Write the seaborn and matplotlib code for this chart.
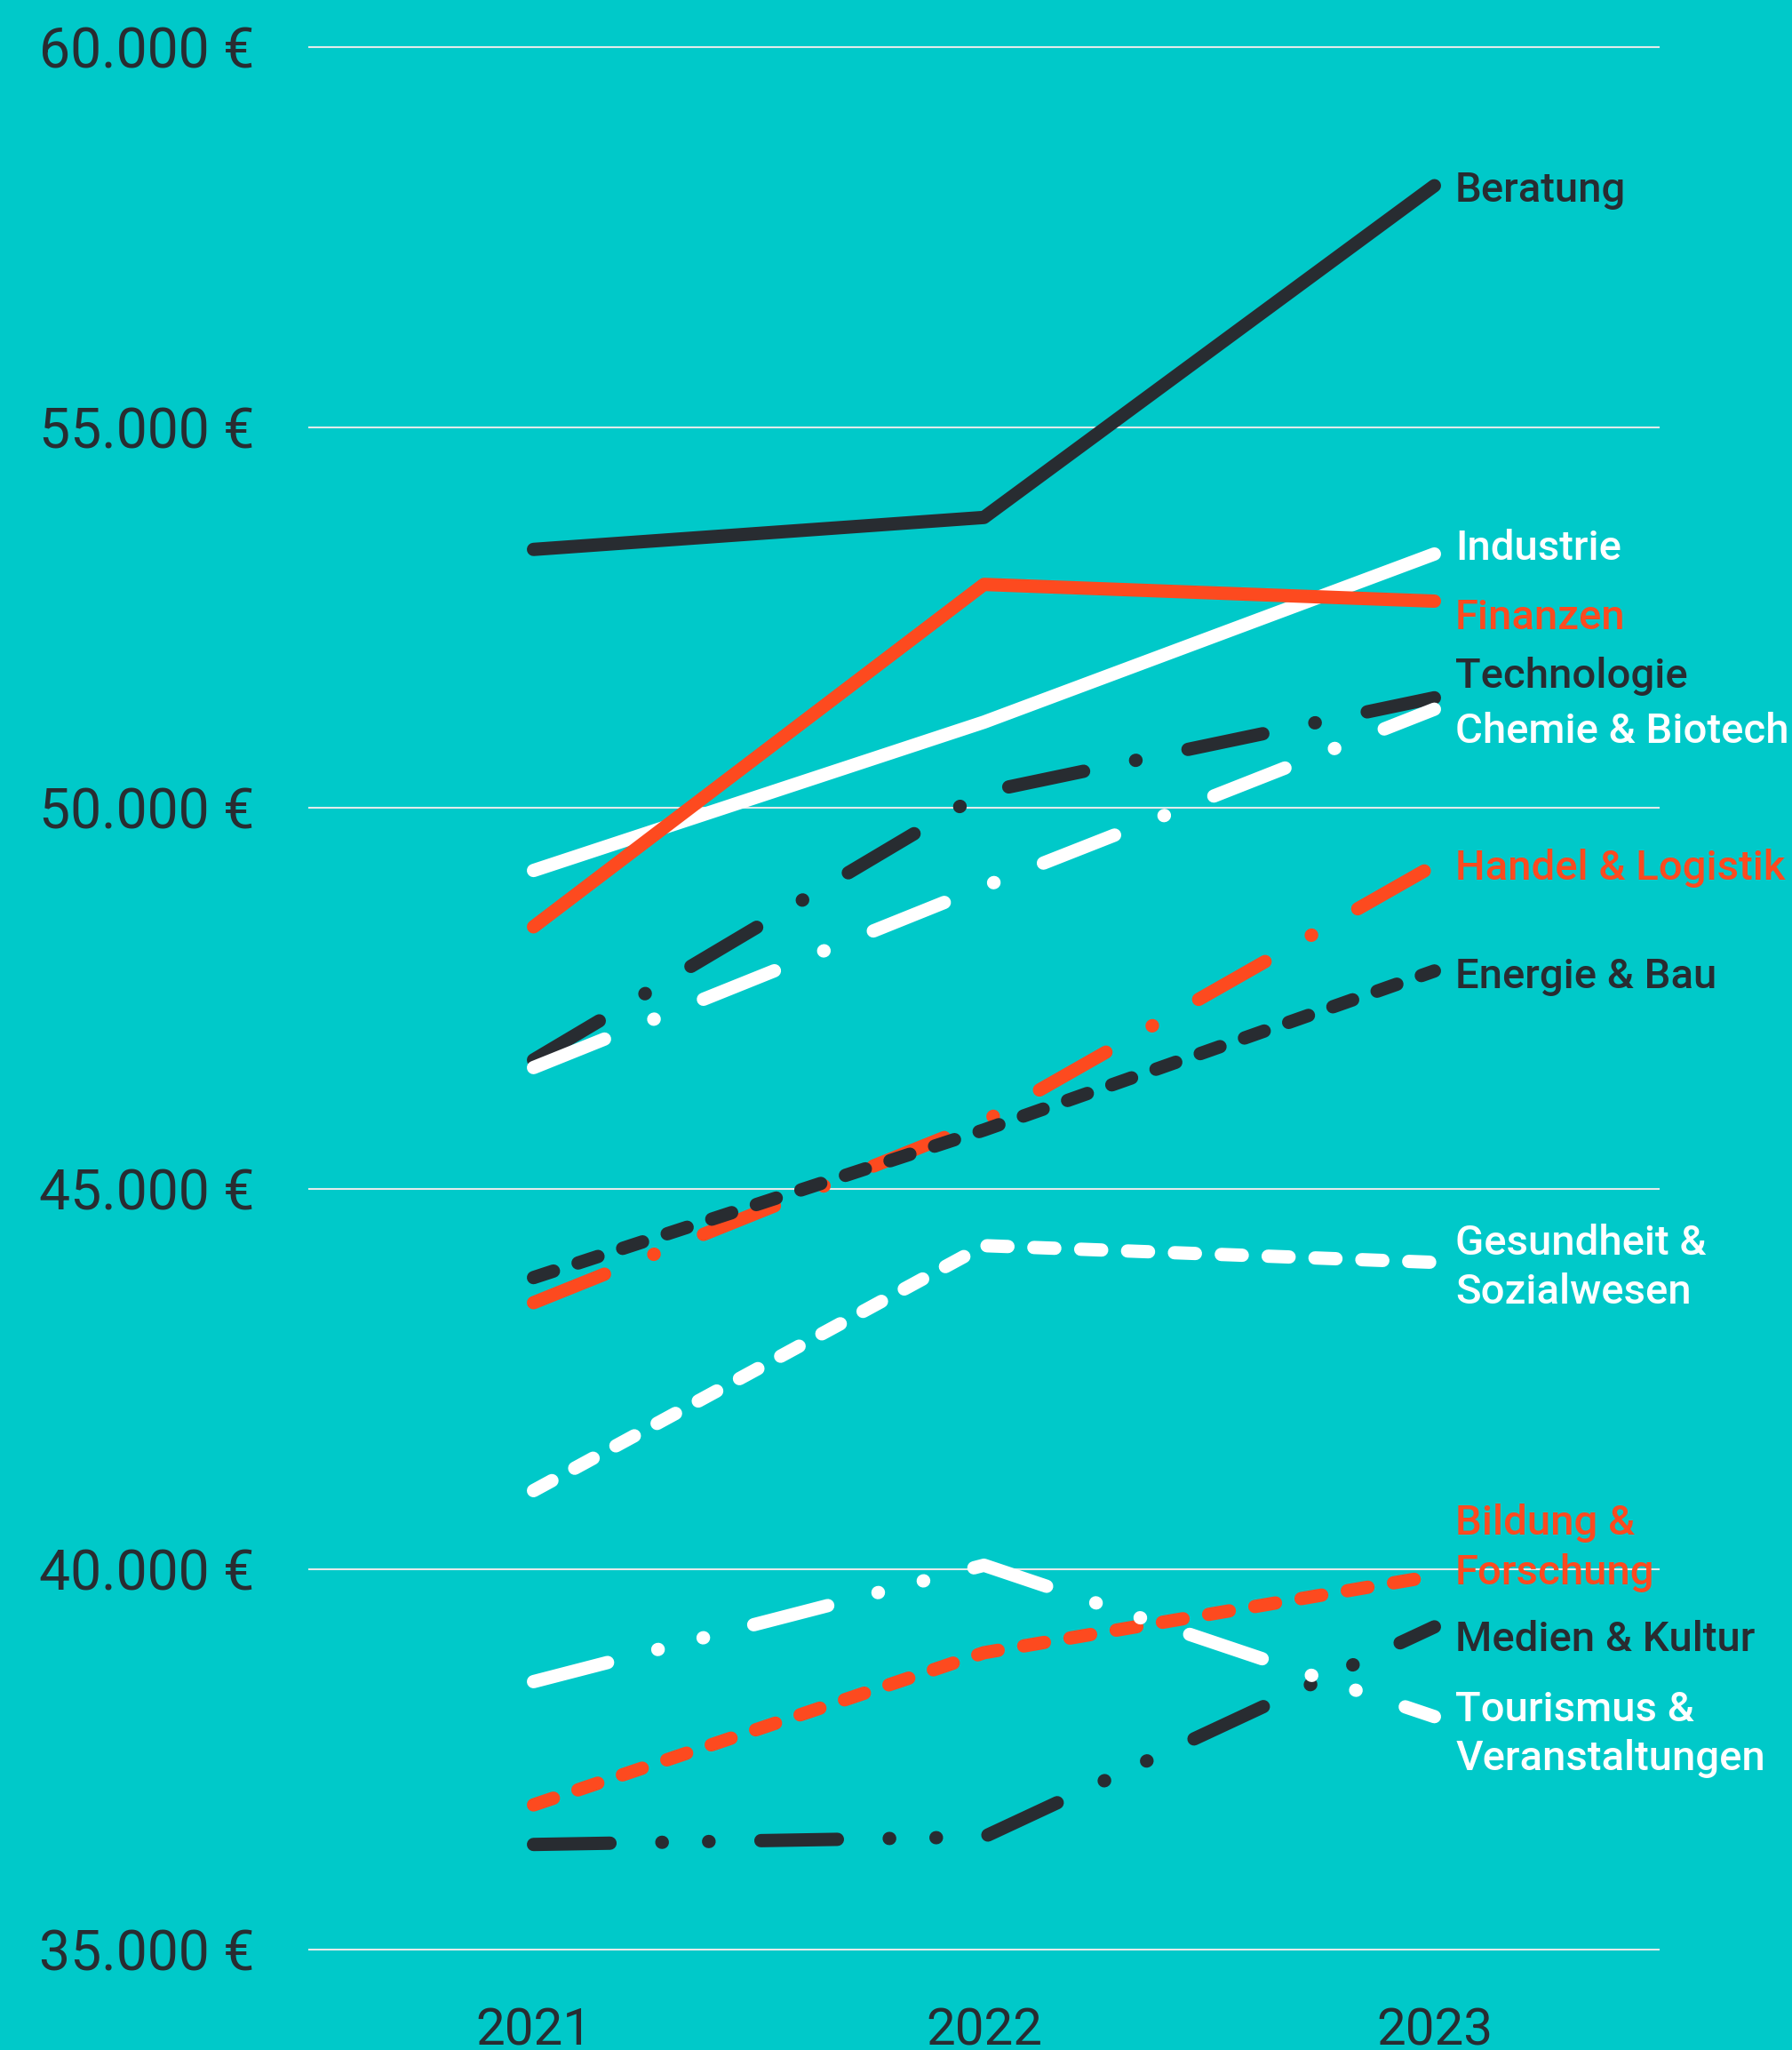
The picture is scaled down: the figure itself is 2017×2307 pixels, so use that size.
import matplotlib
matplotlib.use("Agg")
import matplotlib.pyplot as plt
import seaborn as sns
import pandas as pd
from matplotlib.ticker import FixedLocator, FuncFormatter

# ---------------- data ----------------
years = [2021, 2022, 2023]
sectors = ["Beratung", "Industrie", "Finanzen", "Technologie", "Chemie & Biotech",
           "Handel & Logistik", "Energie & Bau", "Gesundheit & Sozialwesen",
           "Bildung & Forschung", "Medien & Kultur", "Tourismus & Veranstaltungen"]
beratung = [53400, 53820, 58180]
industrie = [49180, 51130, 53340]
finanzen = [48440, 52940, 52720]
technologie = [46690, 50210, 51450]
chemie_biotech = [46590, 48970, 51300]
handel_logistik = [43500, 45880, 49250]
energie_bau = [43830, 45770, 47860]
gesundheit_sozialwesen = [41030, 44250, 44030]
bildung_forschung = [36900, 38900, 39910]
medien_kultur = [36380, 36480, 39240]
tourismus_veranstaltungen = [38520, 40050, 38060]
series = [beratung, industrie, finanzen, technologie, chemie_biotech,
          handel_logistik, energie_bau, gesundheit_sozialwesen,
          bildung_forschung, medien_kultur, tourismus_veranstaltungen]
end_labels = ["Beratung", "Industrie", "Finanzen", "Technologie", "Chemie & Biotech",
              "Handel & Logistik", "Energie & Bau", "Gesundheit &\nSozialwesen",
              "Bildung &\nForschung", "Medien & Kultur", "Tourismus &\nVeranstaltungen"]
y_ticks = [35000, 40000, 45000, 50000, 55000, 60000]
x_ticks = [2021, 2022, 2023]

# ---------------- style ----------------
BG = "#00C9C9"
DARK = "#282C31"
WHITE = "#FFFFFF"
RED = "#FD4A1F"
GRID = "#E2EBEB"

colors = [DARK, WHITE, RED, DARK, WHITE, RED, DARK, WHITE, RED, DARK, WHITE]
solid = ""
dashdot = (62, 43, 0.4, 43)
dashed = (17, 21)
dashdotdot = (62, 42, 0.4, 37.5, 0.4, 42)
styles = [solid, solid, solid, dashdot, dashdot, dashdot,
          dashed, dashed, dashed, dashdotdot, dashdotdot]
# label vertical positions (layout, data units)
label_y = [58120, 53410, 52500, 51730, 51010, 49210, 47785, 43960, 40280, 39080, 37830]

sns.set_theme(style="white")
plt.rcParams["font.family"] = ["Roboto", "DejaVu Sans"]
plt.rcParams["lines.scale_dashes"] = False

df = pd.DataFrame([
    {"year": y, "value": v, "sector": s}
    for s, vals in zip(sectors, series)
    for y, v in zip(years, vals)
])

fig = plt.figure(figsize=(20.17, 23.07), dpi=100, facecolor=BG)
ax = fig.add_axes([347 / 2017, 1 - 2211 / 2307, 1521 / 2017, (2211 - 36) / 2307])
ax.set_facecolor(BG)

sns.lineplot(
    data=df, x="year", y="value", hue="sector", style="sector",
    hue_order=sectors, style_order=sectors,
    palette=dict(zip(sectors, colors)),
    dashes=dict(zip(sectors, styles)),
    linewidth=10.8, legend=False, sort=False, ax=ax,
    dash_capstyle="round", solid_capstyle="round",
    solid_joinstyle="round", dash_joinstyle="round",
)

ax.set_xlim(2020.5, 2023.5)
ax.set_ylim(34800, 60200)
ax.yaxis.set_major_locator(FixedLocator(y_ticks))
ax.xaxis.set_major_locator(FixedLocator(x_ticks))
ax.yaxis.set_major_formatter(FuncFormatter(lambda v, p: f"{int(v):,}".replace(",", ".") + " €"))
ax.xaxis.set_major_formatter(FuncFormatter(lambda v, p: f"{int(v)}"))
ax.grid(axis="y", color=GRID, linewidth=1.5, zorder=0)
ax.grid(axis="x", visible=False)
ax.set_axisbelow(True)
for sp in ax.spines.values():
    sp.set_visible(False)
ax.tick_params(axis="y", length=0, pad=44, labelsize=45, labelcolor=DARK)
ax.tick_params(axis="x", length=0, pad=34, labelsize=42, labelcolor=DARK)
for t in ax.get_yticklabels() + ax.get_xticklabels():
    t.set_fontweight("normal")
ax.set_xlabel("")
ax.set_ylabel("")

for lab, ly, col in zip(end_labels, label_y, colors):
    ax.annotate(lab, xy=(years[-1], ly), xytext=(17, 0), textcoords="offset points",
                ha="left", va="center", fontsize=34, fontweight="medium",
                color=col, linespacing=1.33, annotation_clip=False)

fig.savefig("out.png", dpi=100, facecolor=BG)
